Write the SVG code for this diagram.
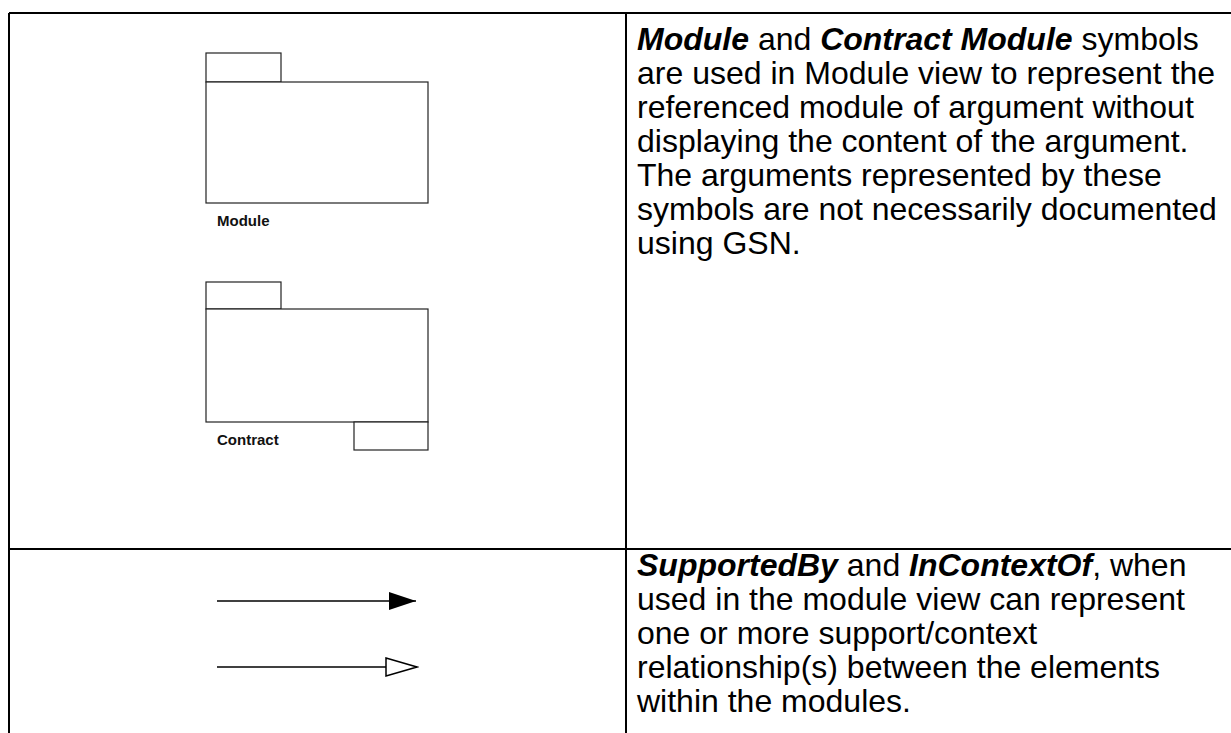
<svg xmlns="http://www.w3.org/2000/svg" width="1231" height="733" viewBox="0 0 1231 733">
<style>
.grid{stroke:#000;stroke-width:2;fill:none}
.box{stroke:#222;stroke-width:1.2;fill:#fff}
.lbl{font-family:"Liberation Sans",Arial,sans-serif;font-size:15px;font-weight:bold;fill:#111}
.txt{font-family:"Liberation Sans",Arial,sans-serif;font-size:32px;fill:#000}
.bi{font-weight:bold;font-style:italic}
.conn{stroke:#000;stroke-width:1.5;fill:none}
</style>
<defs>
<marker id="filled" markerUnits="userSpaceOnUse" markerWidth="28" markerHeight="20" refX="27" refY="9" orient="auto">
<path d="M0,0 L27,9 L0,18 Z" fill="#000"/>
</marker>
<marker id="open" markerUnits="userSpaceOnUse" markerWidth="34" markerHeight="22" refX="32" refY="10" orient="auto">
<path d="M1,1 L32,10 L1,19 Z" fill="#fff" stroke="#000" stroke-width="1.5"/>
</marker>
</defs>
<rect width="1231" height="733" fill="#fff"/>
<g id="table">
<line class="grid" x1="9" y1="13" x2="1231" y2="13"/>
<line class="grid" x1="9" y1="13" x2="9" y2="733"/>
<line class="grid" x1="626" y1="13" x2="626" y2="733"/>
<line class="grid" x1="9" y1="549" x2="1231" y2="549"/>
</g>
<g id="module">
<rect class="box" x="206" y="53" width="75" height="29"/>
<rect class="box" x="206" y="82" width="222" height="121"/>
<text class="lbl" x="217" y="226">Module</text>
</g>
<g id="contract-module">
<rect class="box" x="206" y="282" width="75" height="27"/>
<rect class="box" x="206" y="309" width="222" height="113"/>
<rect class="box" x="354" y="422" width="74" height="28"/>
<text class="lbl" x="217" y="445">Contract</text>
</g>
<g id="connectors">
<line class="conn" x1="217" y1="601" x2="416" y2="601" marker-end="url(#filled)"/>
<line class="conn" x1="217" y1="667" x2="417" y2="667" marker-end="url(#open)"/>
</g>
<g id="desc-module">
<text class="txt" x="637" y="50"><tspan class="bi">Module</tspan> and <tspan class="bi">Contract Module</tspan> symbols</text>
<text class="txt" x="637" y="84">are used in Module view to represent the</text>
<text class="txt" x="637" y="118">referenced module of argument without</text>
<text class="txt" x="637" y="152">displaying the content of the argument.</text>
<text class="txt" x="637" y="186">The arguments represented by these</text>
<text class="txt" x="637" y="220">symbols are not necessarily documented</text>
<text class="txt" x="637" y="254">using GSN.</text>
</g>
<g id="desc-links">
<text class="txt" x="637" y="576"><tspan class="bi">SupportedBy</tspan> and <tspan class="bi">InContextOf</tspan>, when</text>
<text class="txt" x="637" y="610">used in the module view can represent</text>
<text class="txt" x="637" y="644">one or more support/context</text>
<text class="txt" x="637" y="678">relationship(s) between the elements</text>
<text class="txt" x="637" y="712">within the modules.</text>
</g>
</svg>
